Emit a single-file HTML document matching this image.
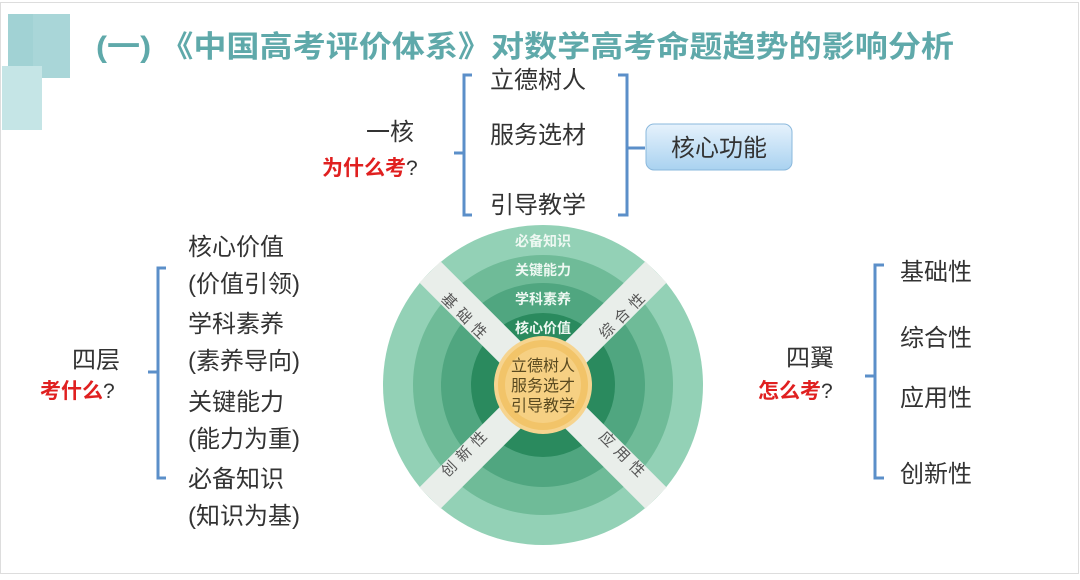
<!DOCTYPE html>
<html><head><meta charset="utf-8"><style>
body{margin:0;width:1080px;height:575px;overflow:hidden;background:#fff;font-family:"Liberation Sans","Noto Sans CJK SC",sans-serif;}
</style></head><body>
<svg width="1080" height="575" xmlns="http://www.w3.org/2000/svg" font-family="Liberation Sans, Noto Sans CJK SC, sans-serif">
<rect x="0.5" y="2.5" width="1078" height="571" fill="#fff" stroke="#ddd"/>
<rect x="8" y="14" width="62" height="64" fill="#a9d6d8"/>
<rect x="2" y="66" width="40" height="64" fill="#c5e5e6"/>
<rect x="8" y="14" width="25" height="52" fill="#9dcfd2" opacity="0.6"/>
<text x="96" y="57" font-size="30" font-weight="bold" fill="#5fa9aa" textLength="858" lengthAdjust="spacingAndGlyphs">(一) 《中国高考评价体系》对数学高考命题趋势的影响分析</text>

<g fill="none" stroke="#5b8fc9" stroke-width="3">
<path d="M472 75 h-8 v140 h8 M464 153 h-10"/>
<path d="M618 75 h9 v140 h-9 M627 148 h18"/>
<path d="M166 268 h-8 v210 h8 M158 372 h-10"/>
<path d="M884 265 h-9 v213 h9 M875 376 h-10"/>
</g>
<g font-size="24" fill="#333">
<text x="490" y="88">立德树人</text>
<text x="490" y="143">服务选材</text>
<text x="490" y="213">引导教学</text>
<text x="366" y="140">一核</text>
<text x="188" y="255">核心价值</text>
<text x="188" y="292">(价值引领)</text>
<text x="188" y="332">学科素养</text>
<text x="188" y="369">(素养导向)</text>
<text x="188" y="410">关键能力</text>
<text x="188" y="447">(能力为重)</text>
<text x="188" y="487">必备知识</text>
<text x="188" y="524">(知识为基)</text>
<text x="72" y="368">四层</text>
<text x="786" y="366">四翼</text>
<text x="900" y="280">基础性</text>
<text x="900" y="346">综合性</text>
<text x="900" y="406">应用性</text>
<text x="900" y="482">创新性</text>
</g>
<g font-size="21" font-weight="bold">
<text x="322" y="175" fill="#e02020">为什么考<tspan fill="#333" font-weight="normal">?</tspan></text>
<text x="40" y="398" fill="#e02020">考什么<tspan fill="#333" font-weight="normal">?</tspan></text>
<text x="758" y="398" fill="#e02020">怎么考<tspan fill="#333" font-weight="normal">?</tspan></text>
</g>
<defs><linearGradient id="g" x1="0" y1="0" x2="0" y2="1"><stop offset="0" stop-color="#e6f2fc"/><stop offset="1" stop-color="#a9d2f0"/></linearGradient></defs>
<rect x="646" y="124" width="146" height="46" rx="8" fill="url(#g)" stroke="#8ab8dc"/>
<text x="719" y="156" font-size="24" fill="#333" text-anchor="middle">核心功能</text>

<g>
<circle cx="543" cy="385" r="160" fill="#93d1b6"/>
<circle cx="543" cy="385" r="130" fill="#6fbb98"/>
<circle cx="543" cy="385" r="102" fill="#50a680"/>
<circle cx="543" cy="385" r="72" fill="#2a8a5e"/>
<g stroke="#e9eeea" stroke-width="30">
<line x1="430" y1="272" x2="656" y2="498"/>
<line x1="656" y1="272" x2="430" y2="498"/>
</g>
<circle cx="543" cy="385" r="47" fill="#f2c469" stroke="#f6d48f" stroke-width="4"/>
<circle cx="543" cy="385" r="38" fill="#f6d083"/>
<g font-size="14" font-weight="bold" fill="#eef8f2" text-anchor="middle">
<text x="543" y="246">必备知识</text>
<text x="543" y="275">关键能力</text>
<text x="543" y="304">学科素养</text>
<text x="543" y="333">核心价值</text>
</g>
<g font-size="16" fill="#5a4a20" text-anchor="middle">
<text x="543" y="371">立德树人</text>
<text x="543" y="391">服务选才</text>
<text x="543" y="411">引导教学</text>
</g>
<g font-size="15" fill="#555" text-anchor="middle" letter-spacing="6">
<text transform="translate(464,316) rotate(45)" x="3" y="5">基础性</text>
<text transform="translate(622,316) rotate(-45)" x="3" y="5">综合性</text>
<text transform="translate(464,454) rotate(-45)" x="3" y="5">创新性</text>
<text transform="translate(622,454) rotate(45)" x="3" y="5">应用性</text>
</g>
</g>
</svg>
</body></html>
